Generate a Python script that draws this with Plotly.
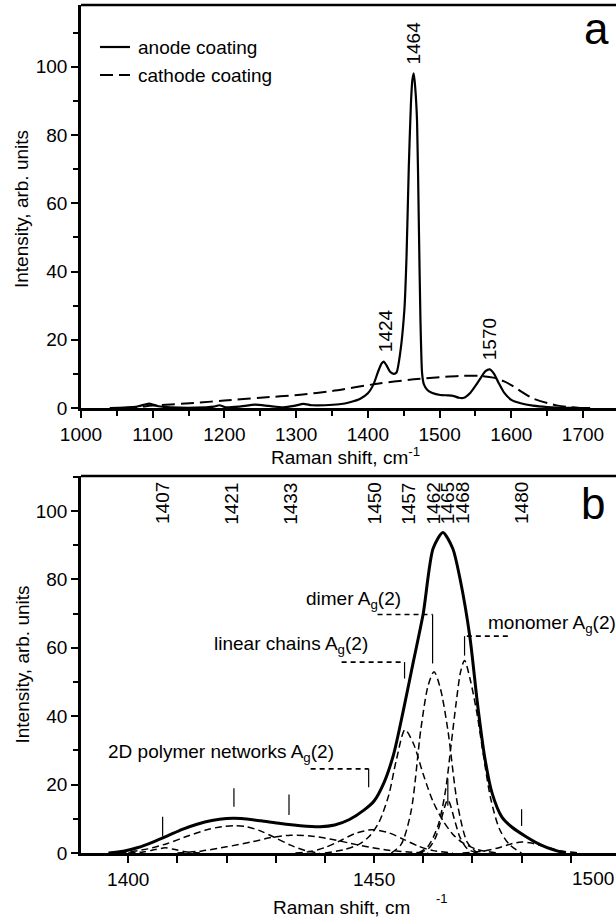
import plotly.graph_objects as go

W, H = 616, 917
FONT = "Liberation Sans, Arial, sans-serif"

# ---------------- panel (a): survey spectra ----------------
anode_shift = [1040, 1060, 1080, 1095, 1108, 1125, 1160, 1185, 1193, 1202, 1220, 1243, 1262,
               1282, 1297, 1310, 1322, 1340, 1360, 1375, 1390, 1400, 1408, 1414, 1419, 1422,
               1426, 1431, 1436, 1440, 1445, 1451, 1454, 1457, 1460, 1462, 1464, 1466, 1468.6,
               1471, 1473.3, 1475.6, 1478, 1483, 1490, 1501, 1512, 1520, 1527, 1534, 1543,
               1550, 1557, 1564, 1570, 1576, 1582, 1590, 1600, 1613, 1630, 1650, 1680, 1710]
anode_int = [0, 0.1, 0.5, 1.3, 0.5, 0.2, 0.1, 0.4, 0.8, 0.2, 0.4, 1.0, 0.6,
             0.2, 0.6, 1.2, 0.8, 0.8, 1.1, 1.7, 2.8, 4.3, 7.0, 10.5, 13.0, 13.6,
             12.5, 10.6, 10.0, 10.4, 16, 29, 45, 70, 89, 96, 98.1, 94, 84,
             55, 26, 10.2, 7.0, 5.3, 4.4, 3.8, 3.7, 3.5, 3.0, 3.0, 4.5,
             6.5, 8.7, 10.8, 11.3, 10.0, 7.5, 4.5, 2.4, 1.4, 0.7, 0.3, 0.05, 0]

cathode_shift = [1060, 1080, 1100, 1166, 1200, 1250, 1306, 1350, 1413, 1464, 1500, 1530,
                 1555, 1575, 1590, 1605, 1614, 1630, 1651, 1665, 1679, 1695]
cathode_int = [0, 0.3, 0.7, 1.6, 2.2, 3.0, 3.9, 5.0, 7.1, 8.4, 9.0, 9.4,
               9.4, 8.9, 7.8, 6.1, 4.8, 2.8, 1.4, 0.7, 0.3, 0]

peaks_a = [1424, 1464, 1570]
peaks_a_int = [13.6, 98.1, 11.3]

# ---------------- panel (b): deconvolution of the 1464 band ----------------
total_shift = [1396, 1399, 1402, 1405, 1408, 1411, 1414, 1417, 1420, 1423, 1427, 1431, 1435,
               1439, 1442, 1445, 1448, 1450, 1452, 1454, 1456, 1458, 1460, 1462, 1464, 1466,
               1467.5, 1469.5, 1471, 1472.5, 1474, 1476, 1478, 1481, 1484, 1486.5, 1489]
total_int = [0, 0.5, 1.6, 3.2, 5.0, 6.9, 8.4, 9.5, 10.1, 10.1, 9.4, 8.6, 8.0,
             7.7, 8.2, 9.8, 12.6, 15.2, 20.5, 29, 42, 56, 70, 89, 93.7, 89,
             80, 63, 44, 28, 17.5, 10.5, 7.6, 4.7, 2.3, 0.9, 0]

comp_1407_x = [1400, 1403, 1405.5, 1407.5, 1409.5, 1412, 1415]
comp_1407_y = [0, 0.3, 1.0, 1.5, 1.0, 0.3, 0]
comp_1421_x = [1396, 1400, 1404, 1408, 1412, 1416, 1419, 1421.5, 1424, 1427, 1430, 1433, 1436, 1439]
comp_1421_y = [0, 0.3, 1.2, 2.8, 4.9, 6.8, 7.7, 8.0, 7.7, 6.4, 4.4, 2.3, 0.7, 0]
comp_1433_x = [1410, 1415, 1420, 1425, 1429, 1433, 1437, 1441, 1445, 1449, 1453, 1457, 1461]
comp_1433_y = [0, 0.6, 1.8, 3.2, 4.5, 5.2, 5.0, 4.1, 2.9, 1.7, 0.8, 0.3, 0]
comp_1450_x = [1434, 1437, 1440, 1443, 1446, 1449.5, 1453, 1456, 1459, 1462, 1466]
comp_1450_y = [0, 0.4, 1.6, 3.5, 5.6, 6.8, 5.9, 4.0, 2.0, 0.7, 0]
comp_1457_x = [1440, 1444, 1447, 1449, 1451, 1453, 1454.5, 1456.3, 1458, 1460, 1462, 1464,
               1466, 1468, 1471, 1475]
comp_1457_y = [0, 1.0, 2.6, 4.8, 9, 17, 27, 36, 32, 23, 15, 9.5, 5.5, 3.0, 1.0, 0]
comp_1462_x = [1453.5, 1455.5, 1457.5, 1459.5, 1461, 1462.2, 1463.5, 1465, 1467, 1469, 1471]
comp_1462_y = [0, 2.5, 12, 36, 49, 53, 48, 36, 14, 3, 0]
comp_1465_x = [1459, 1461, 1462.5, 1463.5, 1465, 1466.5, 1467.5, 1469, 1471]
comp_1465_y = [0, 1.2, 4.5, 9, 15.5, 9, 4.5, 1.2, 0]
comp_1468_x = [1459, 1461, 1463, 1464.5, 1465.7, 1466.7, 1467.6, 1468.4, 1469.5, 1470.9,
               1472.3, 1473.7, 1475.5, 1477.5, 1480]
comp_1468_y = [0, 2, 8, 18, 32, 44, 53, 56.3, 51, 41, 28, 16, 7, 2.5, 0]
comp_1480_x = [1468, 1472, 1475, 1478, 1480, 1482, 1485, 1488, 1492]
comp_1480_y = [0, 0.5, 1.4, 2.7, 3.2, 2.9, 1.8, 0.6, 0]

components = [
    (comp_1407_x, comp_1407_y), (comp_1421_x, comp_1421_y), (comp_1433_x, comp_1433_y),
    (comp_1450_x, comp_1450_y), (comp_1457_x, comp_1457_y), (comp_1462_x, comp_1462_y),
    (comp_1465_x, comp_1465_y), (comp_1468_x, comp_1468_y), (comp_1480_x, comp_1480_y),
]
peaks_b = [1407, 1421, 1433, 1450, 1457, 1462, 1465, 1468, 1480]
# short markers above the weaker components
marker_peaks = [1407, 1421.5, 1432.7, 1465, 1480]

# assignment labels: (text, peak, label x, label y, anchor, bracket start x, bracket y, bracket end y)
assignments = [
    ("2D polymer networks A<sub>g</sub>(2)", 1448.9, 1418.8, 29.2, "center", 1437.1, 24.6, 19.2),
    ("linear chains A<sub>g</sub>(2)", 1456.2, 1433.1, 60.8, "center", 1443.4, 55.8, 51.0),
    ("dimer A<sub>g</sub>(2)", 1461.9, 1445.8, 73.9, "center", 1450.7, 69.7, 55.4),
    ("monomer A<sub>g</sub>(2)", 1468.4, 1472.7, 66.9, "left", 1477.2, 63.4, 57.7),
]


def px(x):
    return x / W


def py(y):
    return 1 - y / H


fig = go.Figure()

# panel (a) traces
fig.add_trace(go.Scatter(x=anode_shift, y=anode_int, mode="lines", name="anode coating",
                         line=dict(color="black", width=2.2, shape="spline", smoothing=0.6),
                         xaxis="x", yaxis="y", showlegend=False))
fig.add_trace(go.Scatter(x=cathode_shift, y=cathode_int, mode="lines", name="cathode coating",
                         line=dict(color="black", width=2, dash="13px,6px", shape="spline",
                                   smoothing=0.8),
                         xaxis="x", yaxis="y", showlegend=False))

# panel (b) traces
for cx, cy in components:
    fig.add_trace(go.Scatter(x=cx, y=cy, mode="lines",
                             line=dict(color="black", width=1.5, dash="7px,4px", shape="spline",
                                       smoothing=0.8),
                             xaxis="x2", yaxis="y2", showlegend=False))
fig.add_trace(go.Scatter(x=total_shift, y=total_int, mode="lines",
                         line=dict(color="black", width=3, shape="spline", smoothing=0.7),
                         xaxis="x2", yaxis="y2", showlegend=False))

axis_common = dict(showline=True, linecolor="black", linewidth=2.5, ticks="outside",
                   tickcolor="black", tickwidth=2, ticklen=7, showgrid=False, zeroline=False,
                   automargin=False,
                   tickfont=dict(family=FONT, size=19, color="black"))

fig.update_layout(
    template="none",
    width=W, height=H,
    margin=dict(l=0, r=0, t=0, b=0, pad=0, autoexpand=False),
    paper_bgcolor="white", plot_bgcolor="white",
    font=dict(family=FONT, size=19, color="black"),
    showlegend=False,
    xaxis=dict(domain=[px(81), 1], range=[1000, 1746], anchor="y",
               tickvals=[1000, 1100, 1200, 1300, 1400, 1500, 1600, 1700],
               minor=dict(dtick=50, tick0=1000, ticks="outside", ticklen=5, tickwidth=2,
                          tickcolor="black"),
               **axis_common),
    yaxis=dict(domain=[py(408), py(5)], range=[0, 118.1], anchor="x",
               tickvals=[0, 20, 40, 60, 80, 100],
               minor=dict(dtick=10, tick0=0, ticks="outside", ticklen=5, tickwidth=2,
                          tickcolor="black"),
               **axis_common),
    xaxis2=dict(domain=[px(81), 1], range=[1390.4, 1499.2], anchor="y2",
                tickvals=[1400, 1450],
                minor=dict(dtick=10, tick0=1400, ticks="outside", ticklen=7, tickwidth=2,
                           tickcolor="black"),
                **axis_common),
    yaxis2=dict(domain=[py(853), py(476)], range=[0, 110.2], anchor="x2",
                tickvals=[0, 20, 40, 60, 80, 100],
                minor=dict(dtick=10, tick0=0, ticks="outside", ticklen=5, tickwidth=2,
                           tickcolor="black"),
                **axis_common),
)

shapes = []
annotations = []

# top frame lines
for ax in ("x", "x2"):
    yax = "y" if ax == "x" else "y2"
    shapes.append(dict(type="line", xref=f"{ax} domain", yref=f"{yax} domain",
                       x0=0, x1=1, y0=1, y1=1, line=dict(color="black", width=2.5)))

# legend of panel (a)
legend_items = [("anode coating", None, 47), ("cathode coating", "13px,6px", 75)]
for text, dash, ypix in legend_items:
    shapes.append(dict(type="line", xref="paper", yref="paper", x0=px(100), x1=px(130),
                       y0=py(ypix), y1=py(ypix),
                       line=dict(color="black", width=2.2, dash=dash or "solid")))
    annotations.append(dict(text=text, xref="paper", yref="paper", x=px(136), y=py(ypix),
                            xanchor="left", yanchor="middle", showarrow=False,
                            font=dict(size=19)))

# peak labels of panel (a)
for p, h in zip(peaks_a, peaks_a_int):
    annotations.append(dict(text=str(p), x=p, y=h, xref="x", yref="y", textangle=-90,
                            xanchor="center", yanchor="bottom", yshift=7, showarrow=False,
                            font=dict(size=19)))

# peak labels of panel (b)
for p in peaks_b:
    annotations.append(dict(text=str(p), x=p, y=102.2, xref="x2", yref="y2", textangle=-90,
                            xanchor="center", yanchor="middle", showarrow=False,
                            font=dict(size=19)))

# short vertical markers
marker_spans = {1407: (4.8, 10.6), 1421.5: (13.5, 18.9), 1432.7: (11.1, 17.1),
                1465: (13.8, 21.8), 1480: (7.9, 12.8)}
for m in marker_peaks:
    y0, y1 = marker_spans[m]
    shapes.append(dict(type="line", xref="x2", yref="y2", x0=m, x1=m, y0=y0, y1=y1,
                       line=dict(color="black", width=1.2)))

# assignment brackets and labels
for text, peak, lx, ly, anchor, bx, by, bend in assignments:
    shapes.append(dict(type="line", xref="x2", yref="y2", x0=bx, x1=peak, y0=by, y1=by,
                       line=dict(color="black", width=1.6, dash="5px,4px")))
    shapes.append(dict(type="line", xref="x2", yref="y2", x0=peak, x1=peak, y0=by, y1=bend,
                       line=dict(color="black", width=1.2)))
    annotations.append(dict(text=text, x=lx, y=ly, xref="x2", yref="y2", xanchor=anchor,
                            yanchor="middle", showarrow=False, font=dict(size=19)))

# panel letters
annotations.append(dict(text="a", xref="paper", yref="paper", x=px(596), y=py(28),
                        xanchor="center", yanchor="middle", showarrow=False,
                        font=dict(size=44)))
annotations.append(dict(text="b", xref="paper", yref="paper", x=px(593), y=py(503),
                        xanchor="center", yanchor="middle", showarrow=False,
                        font=dict(size=44)))

# axis titles
annotations.append(dict(text="Raman shift, cm<sup>-1</sup>", xref="paper", yref="paper",
                        x=px(345), y=py(456), xanchor="center", yanchor="middle",
                        showarrow=False, font=dict(size=19)))
annotations.append(dict(text="Raman shift, cm", xref="paper", yref="paper",
                        x=px(341), y=py(907), xanchor="center", yanchor="middle",
                        showarrow=False, font=dict(size=19)))
annotations.append(dict(text="-1", xref="paper", yref="paper",
                        x=px(442), y=py(898), xanchor="center", yanchor="middle",
                        showarrow=False, font=dict(size=13)))
annotations.append(dict(text="1500", xref="paper", yref="paper",
                        x=1, y=py(878), xanchor="right", yanchor="middle",
                        showarrow=False, font=dict(size=19)))
for ymid in (209, 664.5):
    annotations.append(dict(text="Intensity, arb. units", xref="paper", yref="paper",
                            x=px(22), y=py(ymid), textangle=-90, xanchor="center",
                            yanchor="middle", showarrow=False, font=dict(size=19)))

fig.update_layout(shapes=shapes, annotations=annotations)
fig.write_html("out.html")
